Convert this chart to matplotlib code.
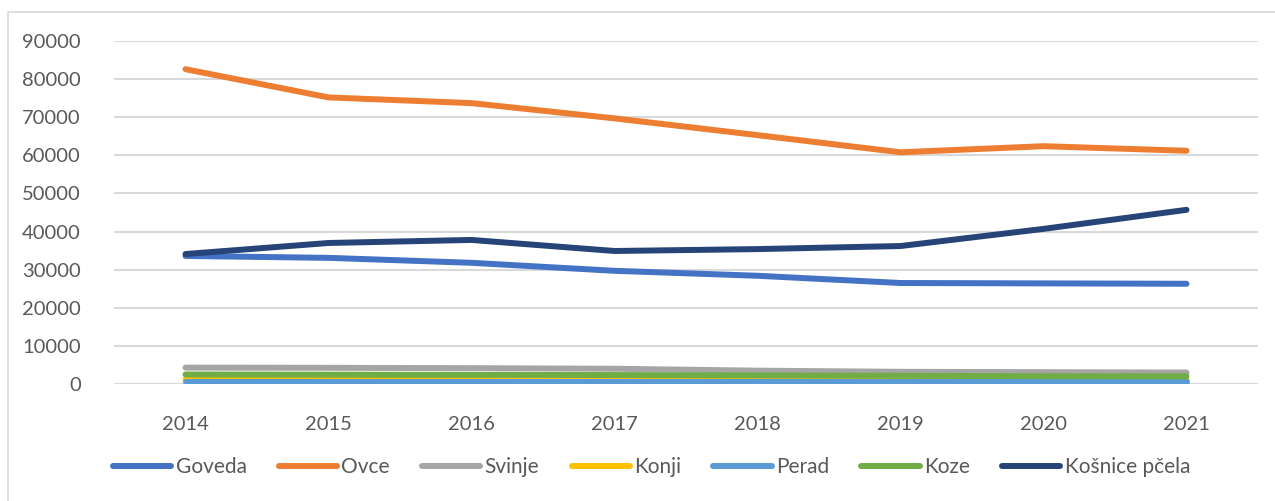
import matplotlib
matplotlib.use("Agg")
import matplotlib.pyplot as plt
from matplotlib.patches import Rectangle

years = ["2014", "2015", "2016", "2017", "2018", "2019", "2020", "2021"]
goveda = [33600, 33100, 31800, 29700, 28400, 26500, 26400, 26300]
ovce = [82600, 75200, 73700, 69700, 65300, 60800, 62400, 61200]
svinje = [4300, 4250, 4150, 4000, 3500, 3200, 3100, 3000]
konji = [1200, 1200, 1200, 1150, 1150, 1100, 1100, 1100]
perad = [400, 400, 400, 400, 400, 400, 400, 400]
koze = [2500, 2450, 2400, 2350, 2250, 2150, 2050, 2000]
kosnice = [34100, 37000, 37800, 34900, 35400, 36200, 40700, 45700]

series = [
    ("Goveda", goveda, "#4472C4"),
    ("Ovce", ovce, "#ED7D31"),
    ("Svinje", svinje, "#A5A5A5"),
    ("Konji", konji, "#FFC000"),
    ("Perad", perad, "#5B9BD5"),
    ("Koze", koze, "#70AD47"),
    ("Košnice pčela", kosnice, "#264478"),
]

plt.rcParams['font.family'] = ['Lato', 'DejaVu Sans']

fig = plt.figure(figsize=(12.75, 5.01), dpi=100)
ax = fig.add_axes([114/1275, 1-384/501, (1258-114)/1275, (384-41)/501])

x = list(range(len(years)))
for name, vals, col in series:
    ax.plot(x, vals, color=col, lw=4.3, label=name, solid_capstyle='round',
            solid_joinstyle='round')

ax.set_xlim(-0.5, len(years) - 0.5)
ax.set_ylim(0, 90000)
ax.set_yticks(range(0, 90001, 10000))
ax.set_yticklabels([str(v) for v in range(0, 90001, 10000)])
ax.set_xticks(x)
ax.set_xticklabels(years)
ax.tick_params(axis='both', length=0, labelsize=14.5, colors='#595959')
ax.tick_params(axis='y', pad=24)
ax.tick_params(axis='x', pad=23)
ax.yaxis.grid(True, color='#D9D9D9', lw=1.5)
ax.set_axisbelow(True)
for s in ax.spines.values():
    s.set_visible(False)

leg = fig.legend(loc='center', bbox_to_anchor=(0.511, 1-467/501), ncol=7,
                 frameon=False, fontsize=15, handlelength=2.8,
                 handletextpad=0.2, columnspacing=1.55)
for t in leg.get_texts():
    t.set_color('#595959')

fig.patches.append(Rectangle((8/1275, -0.1), 1.2, 1-12/501+0.1,
                             transform=fig.transFigure, fill=False,
                             edgecolor='#D9D9D9', lw=1.2))

fig.savefig("out.png", dpi=100)
